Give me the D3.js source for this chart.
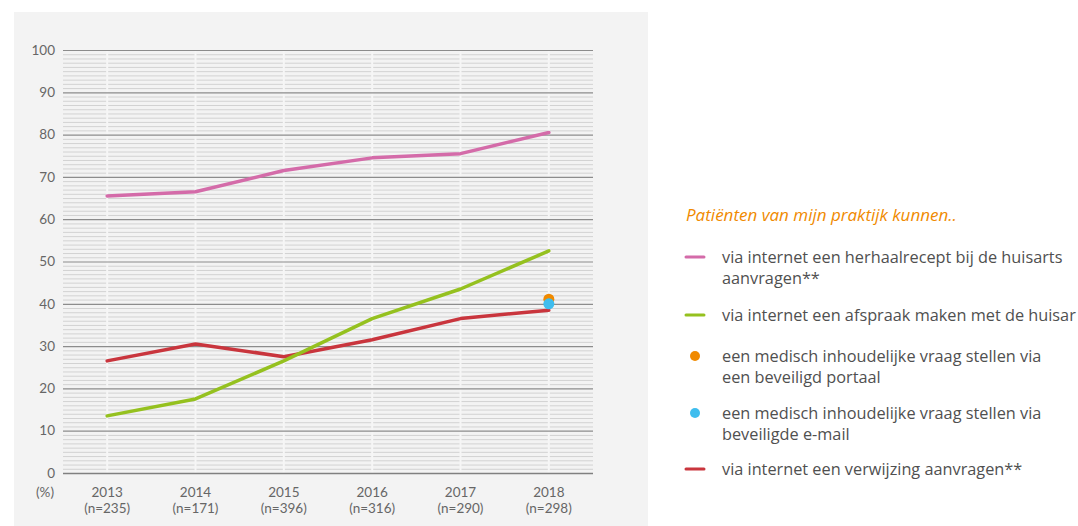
<!DOCTYPE html>
<html>
<head>
<meta charset="utf-8">
<script src="https://cdn.jsdelivr.net/npm/d3@7"></script>
<style>
  body { margin: 0; background: #fff; }
  svg { display: block; font-family: Lato, "Open Sans", sans-serif; }
  .legend text { font-family: "Open Sans", sans-serif; }
</style>
</head>
<body>
<svg id="chart" width="1078" height="526"></svg>
<script>
// ---------------------------------------------------------------------------
// Data
// ---------------------------------------------------------------------------

const years   = ['2013', '2014', '2015', '2016', '2017', '2018']
const nLabels = ['(n=235)', '(n=171)', '(n=396)', '(n=316)', '(n=290)', '(n=298)']

const herhaalrecept = [65.5, 66.5, 71.5, 74.5, 75.5, 80.5]
const afspraak      = [13.5, 17.5, 26.5, 36.5, 43.5, 52.5]
const verwijzing    = [26.5, 30.5, 27.5, 31.5, 36.5, 38.5]
const portaal       = [{ year: '2018', value: 41.1 }]
const email         = [{ year: '2018', value: 40.0 }]

const yTicks = [0, 10, 20, 30, 40, 50, 60, 70, 80, 90, 100]

const legendTitle = 'Patiënten van mijn praktijk kunnen..'
const legendItems = [
  { type: 'line', color: '#d46ba9', lines: ['via internet een herhaalrecept bij de huisarts', 'aanvragen**'] },
  { type: 'line', color: '#95c11f', lines: ['via internet een afspraak maken met de huisar'] },
  { type: 'dot',  color: '#f08a00', lines: ['een medisch inhoudelijke vraag stellen via', 'een beveiligd portaal'] },
  { type: 'dot',  color: '#3fbdee', lines: ['een medisch inhoudelijke vraag stellen via', 'beveiligde e-mail'] },
  { type: 'line', color: '#c9353d', lines: ['via internet een verwijzing aanvragen**'] }
]

// ---------------------------------------------------------------------------
// Setup
// ---------------------------------------------------------------------------

const svg = d3.select('#chart')

// grey panel behind the plot
svg.append('rect')
  .attr('x', 14).attr('y', 12)
  .attr('width', 634).attr('height', 514)
  .attr('fill', '#f3f3f3')

const plot = { left: 63, right: 593, top: 50, bottom: 473 }

const x = d3.scaleBand()
  .domain(years)
  .range([plot.left, plot.right])

const cx = d => x(d) + x.bandwidth() / 2

const y = d3.scaleLinear()
  .domain([0, 100])
  .range([plot.bottom, plot.top])

// minor gridlines (every unit)
svg.append('g')
  .selectAll('line')
  .data(d3.range(0, 101).filter(v => v % 10 != 0))
  .join('line')
  .attr('x1', plot.left).attr('x2', plot.right)
  .attr('y1', d => y(d) + 0.5).attr('y2', d => y(d) + 0.5)
  .attr('stroke', '#d2d2d2')
  .attr('stroke-width', 1)

// white vertical lines at categories
svg.append('g')
  .selectAll('line')
  .data(years)
  .join('line')
  .attr('x1', d => cx(d)).attr('x2', d => cx(d))
  .attr('y1', plot.top).attr('y2', plot.bottom)
  .attr('stroke', '#f6f6f6')
  .attr('stroke-width', 2)

// major gridlines
svg.append('g')
  .selectAll('line')
  .data(yTicks)
  .join('line')
  .attr('x1', plot.left).attr('x2', plot.right)
  .attr('y1', d => y(d) + 0.5).attr('y2', d => y(d) + 0.5)
  .attr('stroke', d => d == 0 ? '#808080' : '#8c8c8c')
  .attr('stroke-width', d => d == 0 ? 1.5 : 1.2)

// y tick labels
svg.append('g')
  .selectAll('text')
  .data(yTicks)
  .join('text')
  .attr('x', 55)
  .attr('y', d => y(d))
  .attr('dy', '0.35em')
  .attr('text-anchor', 'end')
  .attr('fill', '#666')
  .style('font-size', '13.5px')
  .text(d => d)

// x labels
const xLab = svg.append('g')
xLab.selectAll('.year')
  .data(years)
  .join('text')
  .attr('class', 'year')
  .attr('x', d => cx(d))
  .attr('y', 497)
  .attr('text-anchor', 'middle')
  .attr('fill', '#666')
  .style('font-size', '13.5px')
  .text(d => d)
xLab.selectAll('.n')
  .data(nLabels)
  .join('text')
  .attr('class', 'n')
  .attr('x', (d, i) => cx(years[i]))
  .attr('y', 513)
  .attr('text-anchor', 'middle')
  .attr('fill', '#666')
  .style('font-size', '13.5px')
  .text(d => d)

svg.append('text')
  .attr('x', 45).attr('y', 497)
  .attr('text-anchor', 'middle')
  .attr('fill', '#666')
  .style('font-size', '13.5px')
  .text('(%)')

// ---------------------------------------------------------------------------
// Series
// ---------------------------------------------------------------------------

const line = d3.line()
  .x((d, i) => cx(years[i]))
  .y(d => y(d))

const series = [
  { values: verwijzing,    color: legendItems[4].color },
  { values: afspraak,      color: legendItems[1].color },
  { values: herhaalrecept, color: legendItems[0].color }
]

svg.append('g')
  .selectAll('path')
  .data(series)
  .join('path')
  .attr('d', d => line(d.values))
  .attr('fill', 'none')
  .attr('stroke', d => d.color)
  .attr('stroke-width', 3.5)
  .attr('stroke-linejoin', 'round')
  .attr('stroke-linecap', 'round')

// single points for 2018
const dots = [
  { data: portaal, color: legendItems[2].color },
  { data: email,   color: legendItems[3].color }
]
for (let s of dots)
  svg.append('g')
    .selectAll('circle')
    .data(s.data)
    .join('circle')
    .attr('cx', d => cx(d.year))
    .attr('cy', d => y(d.value))
    .attr('r', 5.5)
    .attr('fill', s.color)

// ---------------------------------------------------------------------------
// Legend
// ---------------------------------------------------------------------------

const legend = svg.append('g').attr('class', 'legend')

legend.append('text')
  .attr('x', 686).attr('y', 221)
  .attr('fill', '#f08a00')
  .style('font-size', '17px')
  .style('font-style', 'italic')
  .text(legendTitle)

const legendY = [257, 315, 356, 413, 469]

legendItems.forEach((item, i) => {
  const g = legend.append('g').attr('transform', `translate(0, ${legendY[i]})`)
  if (item.type == 'line')
    g.append('line')
      .attr('x1', 686).attr('x2', 704)
      .attr('y1', 0).attr('y2', 0)
      .attr('stroke', item.color)
      .attr('stroke-width', 3)
      .attr('stroke-linecap', 'round')
  else
    g.append('circle')
      .attr('cx', 695).attr('cy', 0)
      .attr('r', 5)
      .attr('fill', item.color)
  item.lines.forEach((t, j) => {
    g.append('text')
      .attr('x', 722)
      .attr('y', j * 21)
      .attr('dy', '0.35em')
      .attr('fill', '#505050')
      .style('font-size', '16.3px')
      .text(t)
  })
})
</script>
</body>
</html>
